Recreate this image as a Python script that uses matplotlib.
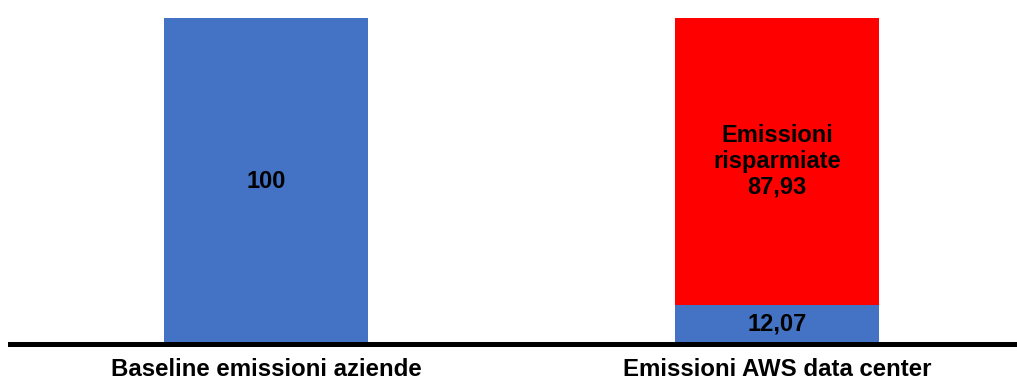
import matplotlib
matplotlib.use("Agg")
import matplotlib.pyplot as plt

categories = ["Baseline emissioni aziende", "Emissioni AWS data center"]
emitted = [100, 12.07]
saved = [0, 87.93]
emitted_labels = ["100", "12,07"]
saved_label = "Emissioni\nrisparmiate\n87,93"

BLUE = "#4472C4"
RED = "#FF0000"
FS = 17
FS_TICK = 17.3

plt.rcParams["font.family"] = ["Liberation Sans", "DejaVu Sans"]

fig = plt.figure(figsize=(10.17, 3.81), dpi=100)
ax = fig.add_axes([10 / 1017, 37 / 381, 1007 / 1017, 326 / 381])

x = range(len(categories))
ax.bar(x, emitted, width=0.4, color=BLUE, zorder=2)
ax.bar(x, saved, width=0.4, bottom=emitted, color=RED, zorder=2)

for i, (e, lab) in enumerate(zip(emitted, emitted_labels)):
    ax.text(i, e / 2, lab, ha="center", va="center", fontsize=FS,
            fontweight="bold", color="black")
ax.text(1, emitted[1] + saved[1] / 2, saved_label, ha="center", va="center",
        fontsize=FS, fontweight="bold", color="black", linespacing=1.15)

ax.set_xlim(-0.501, 1.469)
ax.set_ylim(0, 100)
ax.set_xticks(list(x))
ax.set_xticklabels(categories, fontsize=FS_TICK, fontweight="bold")
for t in ax.get_xticklabels():
    t.set_va("bottom")
ax.tick_params(axis="x", length=0, pad=26.5)
ax.set_yticks([])
for s in ["top", "right", "left"]:
    ax.spines[s].set_visible(False)
ax.spines["bottom"].set_linewidth(3.6)
ax.spines["bottom"].set_zorder(3)

fig.savefig("out.png", dpi=100)
